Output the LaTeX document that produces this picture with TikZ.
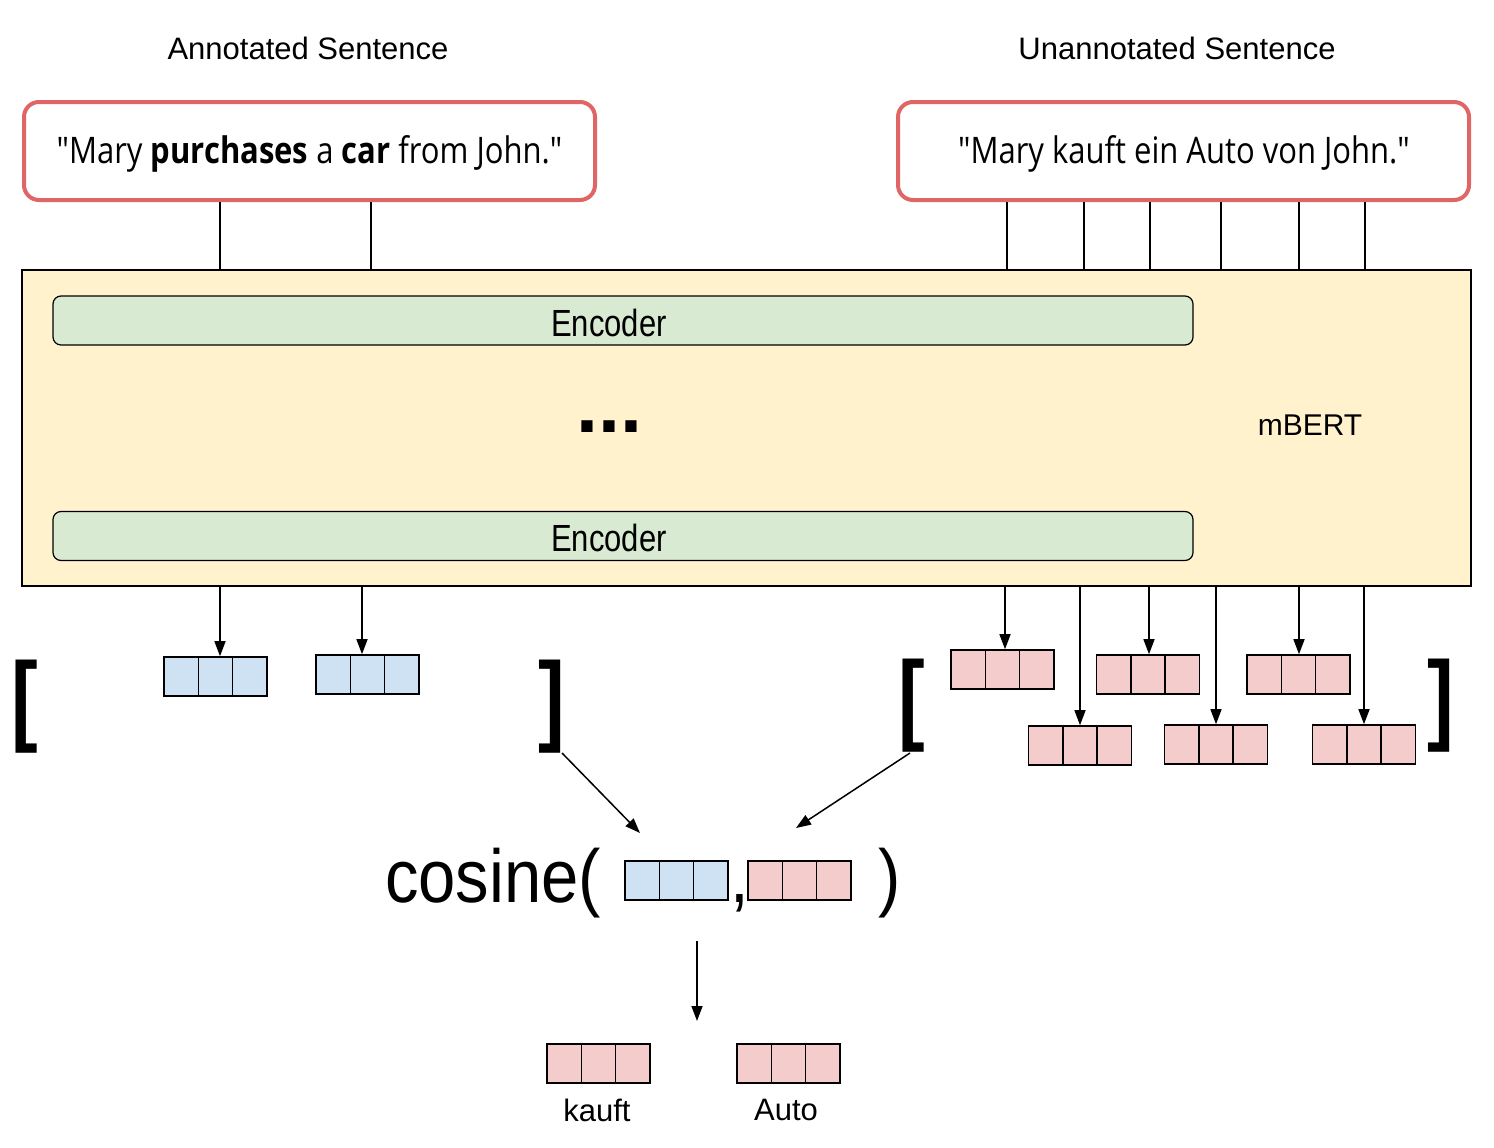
\documentclass[tikz,border=0pt]{standalone}
\usepackage{fontspec}
\setmainfont{Liberation Sans}
\newfontfamily\sentfont{Open Sans}
\usetikzlibrary{arrows.meta,calc}
\definecolor{boxred}{HTML}{E06666}
\definecolor{bertfill}{HTML}{FFF2CC}
\definecolor{encfill}{HTML}{D9EAD3}
\definecolor{vblue}{HTML}{CFE2F3}
\definecolor{vpink}{HTML}{F4CCCC}
\newcommand\tall[2][1.18]{\scalebox{1}[#1]{#2}}
\newcommand\narrowbr[1]{\scalebox{0.8}[1]{#1}}
\begin{document}
\begin{tikzpicture}[x=1pt,y=-1pt,
  sentbox/.style={draw=boxred, line width=4pt, rounded corners=15pt, fill=white,
    minimum width=571pt, minimum height=98pt, inner sep=0pt},
  senttext/.style={font=\sentfont\fontsize{31}{36}\selectfont, inner sep=0pt},
  title/.style={font=\fontsize{31}{36}\selectfont, inner sep=0pt},
  encbox/.style={draw, line width=1.2pt, rounded corners=8pt, fill=encfill,
    minimum width=1140pt, minimum height=49pt, inner sep=0pt},
  enclabel/.style={font=\fontsize{31}{36}\selectfont, inner sep=0pt},
  vecbox/.style={draw, line width=1.6pt, minimum width=103pt, minimum height=39pt, inner sep=0pt,
    path picture={
      \draw[line width=1.6pt]
        ($(path picture bounding box.north west)!1/3!(path picture bounding box.north east)$) --
        ($(path picture bounding box.south west)!1/3!(path picture bounding box.south east)$)
        ($(path picture bounding box.north west)!2/3!(path picture bounding box.north east)$) --
        ($(path picture bounding box.south west)!2/3!(path picture bounding box.south east)$);
    }},
  bvec/.style={vecbox, fill=vblue},
  pvec/.style={vecbox, fill=vpink},
  brack/.style={font=\bfseries\fontsize{100}{104}\selectfont, inner sep=0pt},
  conn/.style={line width=1.5pt},
  arr/.style={line width=1.5pt, -{Triangle[length=15pt,width=11pt]}},
  big/.style={font=\fontsize{67}{72}\selectfont, inner sep=0pt, anchor=base west},
  small/.style={font=\fontsize{31}{34}\selectfont, inner sep=0pt}
]
\useasboundingbox (0,0) rectangle (1494,1148);

% titles
\node[title] (t1) at (308,48) {Annotated Sentence};
\node[title] (t2) at (1177,48) {Unannotated Sentence};

% sentence boxes
\node[sentbox] (ls) at (309.5,151) {};
\node[senttext] (lst) at (309.5,154) {\tall{"Mary \textbf{purchases} a \textbf{car} from John."}};
\node[sentbox] (rs) at (1183.5,151) {};
\node[senttext] (rst) at (1184,154) {\tall{"Mary kauft ein Auto von John."}};

% mBERT
\node[draw, line width=1.5pt, fill=bertfill, minimum width=1449pt, minimum height=316pt, inner sep=0pt] (bert) at (746.5,428) {};
\node[encbox] (e1) at (623,320.5) {};
\node[enclabel] (e1t) at (609,323) {\tall[1.22]{Encoder}};
\node[encbox] (e2) at (623,536) {};
\node[enclabel] (e2t) at (609,538) {\tall[1.22]{Encoder}};
\node[font=\bfseries\fontsize{79}{84}\selectfont, inner sep=0pt] (dots) at (609,427) {...};
\node[enclabel, font=\fontsize{30}{36}\selectfont] (bl) at (1310,425) {mBERT};

% x positions
\coordinate (a1) at (220,0);
\coordinate (a2) at (371,0);
\coordinate (a2b) at (362,0);
\coordinate (r1) at (1007,0);
\coordinate (r2) at (1084,0);
\coordinate (r3) at (1150,0);
\coordinate (r4) at (1221,0);
\coordinate (r5) at (1299,0);
\coordinate (r6) at (1365,0);
\coordinate (q1) at (1005,0);
\coordinate (q2) at (1080,0);
\coordinate (q3) at (1149,0);
\coordinate (q4) at (1216,0);
\coordinate (q5) at (1299,0);
\coordinate (q6) at (1364,0);

% connectors into mBERT
\foreach \c in {a1,a2}{\draw[conn] (ls.south -| \c) -- (bert.north -| \c);}
\foreach \c in {r1,r2,r3,r4,r5,r6}{\draw[conn] (rs.south -| \c) -- (bert.north -| \c);}

% vectors
\node[bvec] (b1) at (215.5,676.5) {};
\node[bvec] (b2) at (367.5,674.5) {};
\node[pvec] (p1) at (1002.5,669.5) {};
\node[pvec] (p2) at (1148,674.5) {};
\node[pvec] (p3) at (1298.5,674.5) {};
\node[pvec] (p4) at (1080,745.5) {};
\node[pvec] (p5) at (1216,744.5) {};
\node[pvec] (p6) at (1364,744.5) {};

\draw[arr] (bert.south -| a1) -- (b1.north -| a1);
\draw[arr] (bert.south -| a2b) -- (b2.north -| a2b);
\draw[arr] (bert.south -| q1) -- (p1.north -| q1);
\draw[arr] (bert.south -| q2) -- (p4.north -| q2);
\draw[arr] (bert.south -| q3) -- (p2.north -| q3);
\draw[arr] (bert.south -| q4) -- (p5.north -| q4);
\draw[arr] (bert.south -| q5) -- (p3.north -| q5);
\draw[arr] (bert.south -| q6) -- (p6.north -| q6);

% brackets
\node[brack] (lb1) at (25,707) {\narrowbr{[}};
\node[brack] (rb1) at (551.5,707) {\narrowbr{]}};
\node[brack] (lb2) at (912,705.5) {\narrowbr{[}};
\node[brack] (rb2) at (1440.5,705.5) {\narrowbr{]}};

% cosine expression
\node[big] (cos) at (385,902) {\tall[1.12]{cosine(}};
\node[bvec] (cb) at (676.5,880.5) {};
\node[big] (comma) at (730,902) {\tall[1.12]{,}};
\node[pvec] (cp) at (799.5,880.5) {};
\node[big] (cpar) at (878,902) {\tall[1.12]{)}};

\coordinate (d1s) at (562,753);
\coordinate (d1e) at (640,833);
\coordinate (d2s) at (910,753);
\coordinate (d2e) at (796,828);
\draw[arr] (d1s) -- (d1e);
\draw[arr] (d2s) -- (d2e);

\coordinate (c1) at (697,941);
\coordinate (c2) at (697,1021);
\draw[arr] (c1) -- (c2);

% results
\node[pvec] (k1) at (598.5,1063.5) {};
\node[pvec] (k2) at (788.5,1063.5) {};
\node[small] (k1t) at (597,1110) {kauft};
\node[small] (k2t) at (786,1110) {Auto};
\end{tikzpicture}
\end{document}
